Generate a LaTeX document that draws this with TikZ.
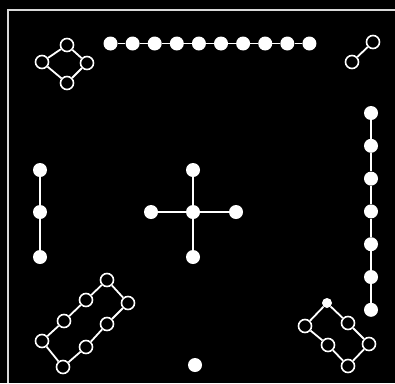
\documentclass[tikz,border=0pt]{standalone}
\begin{document}
\begin{tikzpicture}[x=1pt,y=-1pt,
  fnode/.style={circle,fill=white,draw=none,minimum size=14pt,inner sep=0pt},
  snode/.style={circle,fill=white,draw=none,minimum size=10pt,inner sep=0pt},
  onode/.style={circle,fill=black,draw=white,line width=1.6pt,minimum size=13pt,inner sep=0pt},
  edge/.style={draw=white,line width=1.8pt},
  frameline/.style={draw=white!85!black,line width=1.6pt}]
\fill[black] (0,0) rectangle (395,383);
\useasboundingbox (0,0) rectangle (395,383);
\draw[frameline] (8,383) -- (8,10) -- (395,10);
% top-left diamond
\node[onode] (d1) at (67,45) {};
\node[onode] (d2) at (42,62) {};
\node[onode] (d3) at (87,63) {};
\node[onode] (d4) at (67,83) {};
\draw[edge] (d1) -- (d2) (d1) -- (d3) (d2) -- (d4) (d3) -- (d4);
% top row
\foreach \i in {0,...,9} {
  \node[fnode] (t\i) at ({110.5+22.1*\i},43.5) {};
}
\foreach \i [evaluate=\i as \j using int(\i+1)] in {0,...,8} {
  \draw[edge] (t\i) -- (t\j);
}
% top-right pair
\node[onode] (p1) at (373,42) {};
\node[onode] (p2) at (352,62) {};
\draw[edge] (p1) -- (p2);
% left vertical
\node[fnode] (l1) at (40,170) {};
\node[fnode] (l2) at (40,212) {};
\node[fnode] (l3) at (40,257) {};
\draw[edge] (l1) -- (l2) -- (l3);
% center cross
\node[fnode] (c0) at (193,212) {};
\node[fnode] (cn) at (193,170) {};
\node[fnode] (cw) at (151,212) {};
\node[fnode] (ce) at (236,212) {};
\node[fnode] (cs) at (193,257) {};
\draw[edge] (c0) -- (cn) (c0) -- (cw) (c0) -- (ce) (c0) -- (cs);
% right vertical
\foreach \i in {0,...,6} {
  \node[fnode] (r\i) at (371,{113+32.8*\i}) {};
}
\foreach \i [evaluate=\i as \j using int(\i+1)] in {0,...,5} {
  \draw[edge] (r\i) -- (r\j);
}
% bottom-left loop
\node[onode] (b1) at (107,280) {};
\node[onode] (b2) at (86,300) {};
\node[onode] (b3) at (64,321) {};
\node[onode] (b4) at (42,341) {};
\node[onode] (b5) at (63,367) {};
\node[onode] (b6) at (86,347) {};
\node[onode] (b7) at (107,324) {};
\node[onode] (b8) at (128,303) {};
\draw[edge] (b1) -- (b2) -- (b3) -- (b4) -- (b5) -- (b6) -- (b7) -- (b8) -- (b1);
% bottom-right loop
\node[snode] (q1) at (327,303) {};
\node[onode] (q2) at (305,326) {};
\node[onode] (q3) at (328,345) {};
\node[onode] (q4) at (348,366) {};
\node[onode] (q5) at (369,344) {};
\node[onode] (q6) at (348,323) {};
\draw[edge] (q1) -- (q2) -- (q3) -- (q4) -- (q5) -- (q6) -- (q1);
% bottom single
\node[fnode] (s1) at (195,365) {};
\end{tikzpicture}
\end{document}
